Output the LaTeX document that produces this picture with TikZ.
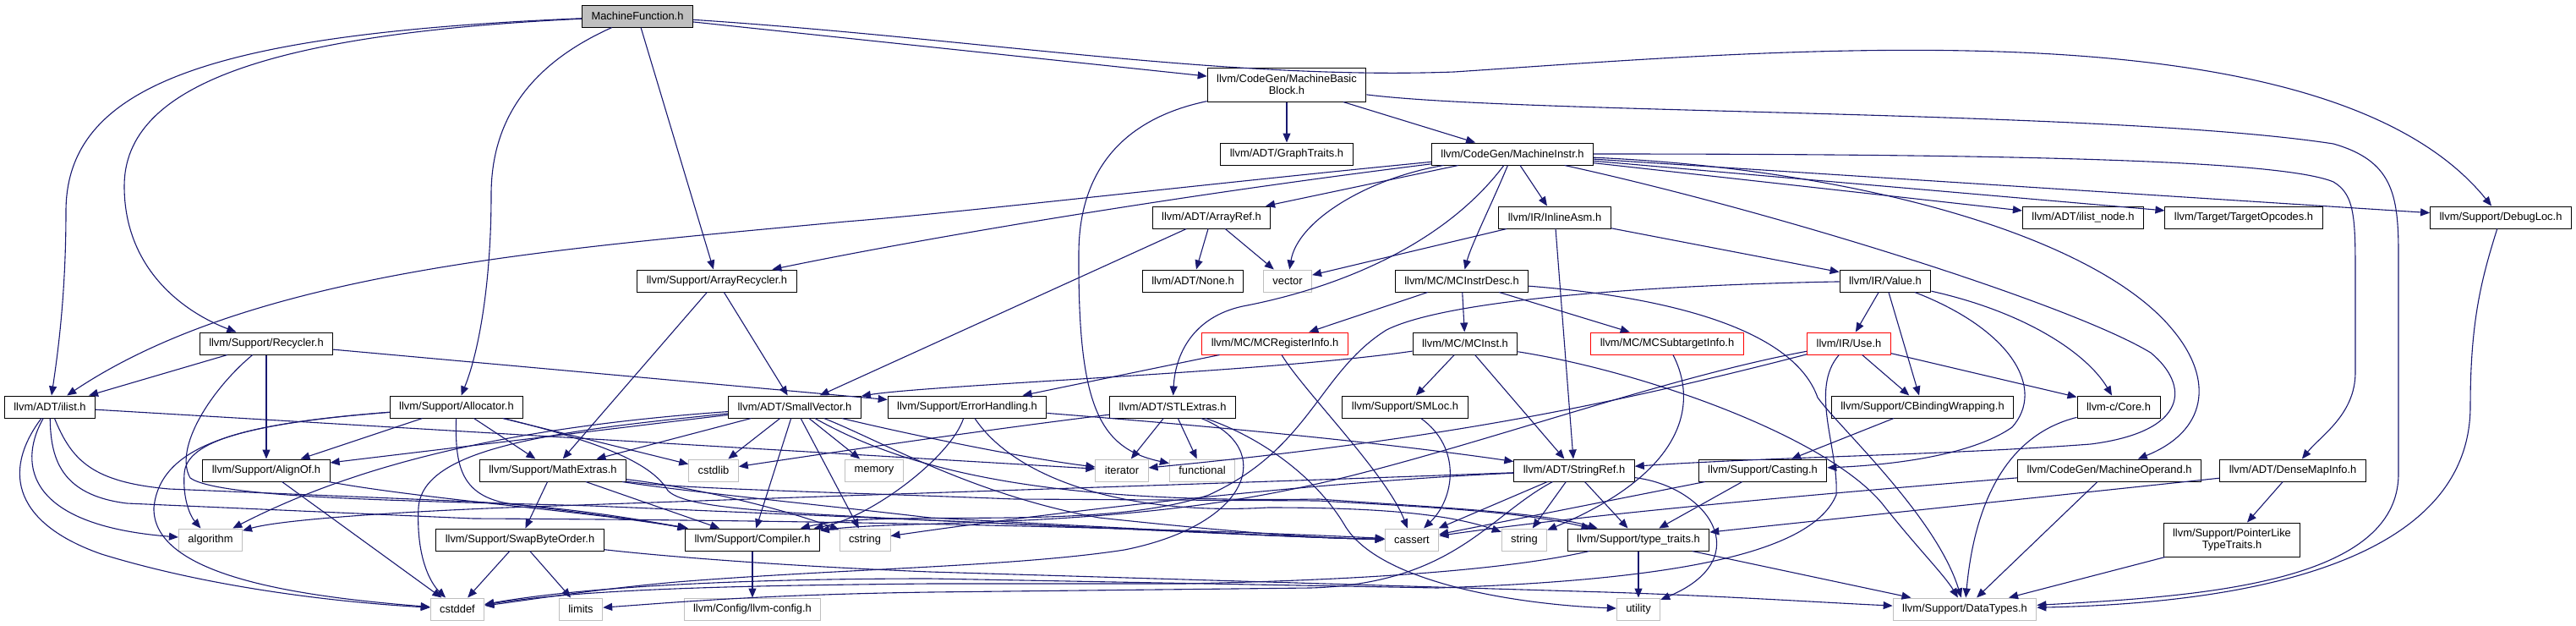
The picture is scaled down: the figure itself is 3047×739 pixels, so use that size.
\documentclass[tikz,border=0pt]{standalone}
\usepackage{fontspec}
\newfontfamily\dotfont{Liberation Sans}
\usetikzlibrary{arrows.meta}
\definecolor{edgeblue}{HTML}{191970}
\definecolor{sysgray}{HTML}{BFBFBF}
\definecolor{hdrred}{HTML}{FF0000}

\begin{document}
\begin{tikzpicture}[x=0.5pt, y=-0.5pt,
    hdr/.style={draw=black, fill=white, line width=0.5pt, inner xsep=5.5pt, inner ysep=0pt,
        minimum height=13pt, align=center, font=\dotfont\fontsize{6.45}{7}\selectfont},
    tall/.style={hdr, minimum height=20pt},
    sys/.style={hdr, draw=sysgray},
    part/.style={hdr, draw=hdrred},
    root/.style={hdr, fill=sysgray},
    dep/.style={draw=edgeblue, line width=0.55pt, -{Triangle[length=5.5pt,width=4.5pt]}}]
    \useasboundingbox (0,0) rectangle (3047,739);
    % Below nodes are the headers.
        \node[root] (mf) at (754,19) {MachineFunction.h};
        \node[tall] (mbb) at (1522,100) {llvm/CodeGen/MachineBasic\\Block.h};
        \node[hdr] (gt) at (1522,182) {llvm/ADT/GraphTraits.h};
        \node[hdr] (mi) at (1789,182) {llvm/CodeGen/MachineInstr.h};
        \node[hdr] (aref) at (1433,257) {llvm/ADT/ArrayRef.h};
        \node[hdr] (iasm) at (1839,257) {llvm/IR/InlineAsm.h};
        \node[hdr] (ilnode) at (2464,257) {llvm/ADT/ilist\_node.h};
        \node[hdr] (topc) at (2654,257) {llvm/Target/TargetOpcodes.h};
        \node[hdr] (dloc) at (2958,257) {llvm/Support/DebugLoc.h};
        \node[hdr] (arec) at (848,332) {llvm/Support/ArrayRecycler.h};
        \node[hdr] (none) at (1411,332) {llvm/ADT/None.h};
        \node[sys] (vec) at (1523,332) {vector};
        \node[hdr] (mcid) at (1729,332) {llvm/MC/MCInstrDesc.h};
        \node[hdr] (val) at (2230,332) {llvm/IR/Value.h};
        \node[hdr] (rec) at (315,406) {llvm/Support/Recycler.h};
        \node[part] (mcri) at (1508,406) {llvm/MC/MCRegisterInfo.h};
        \node[hdr] (mcin) at (1733,406) {llvm/MC/MCInst.h};
        \node[part] (mcsti) at (1972,406) {llvm/MC/MCSubtargetInfo.h};
        \node[part] (use) at (2187,406) {llvm/IR/Use.h};
        \node[hdr] (ilist) at (59,481) {llvm/ADT/ilist.h};
        \node[hdr] (alloc) at (540,481) {llvm/Support/Allocator.h};
        \node[hdr] (svec) at (940,481) {llvm/ADT/SmallVector.h};
        \node[hdr] (errh) at (1144,481) {llvm/Support/ErrorHandling.h};
        \node[hdr] (stl) at (1387,481) {llvm/ADT/STLExtras.h};
        \node[hdr] (smloc) at (1662,481) {llvm/Support/SMLoc.h};
        \node[hdr] (cbw) at (2274,481) {llvm/Support/CBindingWrapping.h};
        \node[hdr] (core) at (2506,481) {llvm-c/Core.h};
        \node[hdr] (align) at (315,556) {llvm/Support/AlignOf.h};
        \node[hdr] (mext) at (654,556) {llvm/Support/MathExtras.h};
        \node[sys] (cstdlib) at (844,556) {cstdlib};
        \node[sys] (mem) at (1034,556) {memory};
        \node[sys] (iter) at (1327,556) {iterator};
        \node[sys] (func) at (1422,556) {functional};
        \node[hdr] (sref) at (1862,556) {llvm/ADT/StringRef.h};
        \node[hdr] (cast) at (2085,556) {llvm/Support/Casting.h};
        \node[hdr] (mop) at (2495,556) {llvm/CodeGen/MachineOperand.h};
        \node[hdr] (dmi) at (2712,556) {llvm/ADT/DenseMapInfo.h};
        \node[sys] (algo) at (249,638) {algorithm};
        \node[hdr] (swap) at (615,638) {llvm/Support/SwapByteOrder.h};
        \node[hdr] (comp) at (890,638) {llvm/Support/Compiler.h};
        \node[sys] (cstring) at (1023,638) {cstring};
        \node[sys] (cassert) at (1670,638) {cassert};
        \node[sys] (string) at (1803,638) {string};
        \node[hdr] (tt) at (1938,638) {llvm/Support/type\_traits.h};
        \node[tall] (plt) at (2640,638) {llvm/Support/PointerLike\\TypeTraits.h};
        \node[sys] (cstddef) at (541,720) {cstddef};
        \node[sys] (limits) at (687,720) {limits};
        \node[sys] (lcfg) at (890,720) {llvm/Config/llvm-config.h};
        \node[sys] (util) at (1938,720) {utility};
        \node[sys] (dt) at (2324,720) {llvm/Support/DataTypes.h};
    % This draws the includes of MachineFunction.h.
        \draw[dep] (mf) .. controls (250,40) and (78,100) .. (78,250) .. controls (78,350) and (68,420) .. (ilist);
        \draw[dep] (mf) .. controls (320,40) and (147,100) .. (147,220) .. controls (147,320) and (220,370) .. (rec);
        \draw[dep] (mf) .. controls (640,70) and (581,130) .. (581,230) .. controls (581,340) and (565,420) .. (alloc);
        \draw[dep] (mf) -- (arec);
        \draw[dep] (mf) -- (mbb);
        \draw[dep] (mf) .. controls (1150,45) and (1450,95) .. (1720,85) .. controls (2100,60) and (2750,0) .. (dloc);
    % MachineBasicBlock.h and MachineInstr.h.
        \draw[dep] (mbb) -- (gt);
        \draw[dep] (mbb) -- (mi);
        \draw[dep] (mbb) .. controls (1330,140) and (1276,200) .. (1276,300) .. controls (1275,480) and (1300,530) .. (func);
        \draw[dep] (mbb) .. controls (1800,135) and (2500,130) .. (2760,170) .. controls (2830,190) and (2837,230) .. (2837,300) -- (2837,560) .. controls (2837,690) and (2600,705) .. (dt);
        \draw[dep] (mi) -- (aref);
        \draw[dep] (mi) -- (iasm);
        \draw[dep] (mi) .. controls (1620,210) and (1535,260) .. (vec);
        \draw[dep] (mi) .. controls (1765,240) and (1740,290) .. (mcid);
        \draw[dep] (mi) .. controls (1700,300) and (1560,345) .. (1470,362) .. controls (1410,375) and (1390,420) .. (stl);
        \draw[dep] (mi) .. controls (1400,220) and (1150,250) .. (1000,262) .. controls (650,295) and (300,320) .. (ilist);
        \draw[dep] (mi) .. controls (1400,230) and (1100,280) .. (arec);
        \draw[dep] (mi) -- (ilnode);
        \draw[dep] (mi) -- (topc);
        \draw[dep] (mi) -- (dloc);
        \draw[dep] (mi) .. controls (2100,250) and (2450,360) .. (2544,417) .. controls (2590,455) and (2590,510) .. (2473,525) .. controls (2300,538) and (2100,540) .. (sref);
        \draw[dep] (mi) .. controls (2200,200) and (2480,280) .. (2570,390) .. controls (2620,450) and (2610,510) .. (mop);
        \draw[dep] (mi) .. controls (2400,182) and (2700,190) .. (2760,215) .. controls (2786,230) and (2786,260) .. (2786,330) -- (2786,440) .. controls (2786,490) and (2745,515) .. (dmi);
    % Second row.
        \draw[dep] (aref) -- (none);
        \draw[dep] (aref) -- (vec);
        \draw[dep] (aref) -- (svec);
        \draw[dep] (iasm) -- (vec);
        \draw[dep] (iasm) -- (sref);
        \draw[dep] (iasm) -- (val);
        \draw[dep] (arec) -- (svec);
        \draw[dep] (arec) -- (mext);
        \draw[dep] (mcid) -- (mcri);
        \draw[dep] (mcid) -- (mcin);
        \draw[dep] (mcid) -- (mcsti);
        \draw[dep] (mcid) .. controls (1960,350) and (2120,385) .. (2150,470) .. controls (2175,505) and (2290,610) .. (dt);
        \draw[dep] (val) -- (use);
        \draw[dep] (val) -- (cbw);
        \draw[dep] (val) .. controls (2380,390) and (2420,460) .. (2380,505) .. controls (2330,540) and (2230,550) .. (cast);
        \draw[dep] (val) .. controls (2400,370) and (2470,420) .. (core);
        \draw[dep] (val) .. controls (2000,336) and (1720,350) .. (1640,390) .. controls (1560,440) and (1550,530) .. (1430,585) .. controls (1300,630) and (1050,600) .. (comp);
    % Third row.
        \draw[dep] (rec) -- (ilist);
        \draw[dep] (rec) -- (align);
        \draw[dep] (rec) -- (errh);
        \draw[dep] (rec) .. controls (250,460) and (205,530) .. (225,565) .. controls (260,590) and (500,592) .. (700,598) -- (1100,615) .. controls (1400,628) and (1550,636) .. (cassert);
        \draw[dep] (mcri) -- (errh);
        \draw[dep] (mcri) .. controls (1540,460) and (1640,560) .. (cassert);
        \draw[dep] (mcin) .. controls (1500,440) and (1100,455) .. (svec);
        \draw[dep] (mcin) -- (smloc);
        \draw[dep] (mcin) -- (sref);
        \draw[dep] (mcin) .. controls (1950,440) and (2170,520) .. (2230,600) .. controls (2270,650) and (2300,680) .. (dt);
        \draw[dep] (mcsti) .. controls (2010,480) and (1990,560) .. (string);
        \draw[dep] (use) -- (cbw);
        \draw[dep] (use) -- (core);
        \draw[dep] (use) .. controls (1900,480) and (1700,520) .. (iter);
        \draw[dep] (use) .. controls (1950,450) and (1700,545) .. (1520,580) .. controls (1300,625) and (1060,615) .. (comp);
        \draw[dep] (use) .. controls (2140,460) and (2175,530) .. (2172,585) .. controls (2145,650) and (2000,685) .. (1700,695) -- (1100,684) .. controls (900,684) and (700,692) .. (cstddef);
    % Fourth row.
        \draw[dep] (ilist) .. controls (25,540) and (20,620) .. (algo);
        \draw[dep] (ilist) .. controls (0,560) and (20,620) .. (120,655) .. controls (250,695) and (400,712) .. (cstddef);
        \draw[dep] (ilist) -- (iter);
        \draw[dep] (ilist) .. controls (85,545) and (110,570) .. (200,578) -- (560,593) .. controls (680,600) and (760,615) .. (comp);
        \draw[dep] (ilist) .. controls (60,540) and (70,585) .. (150,595) -- (560,613) .. controls (1000,615) and (1400,625) .. (cassert);
        \draw[dep] (alloc) -- (align);
        \draw[dep] (alloc) -- (mext);
        \draw[dep] (alloc) -- (cstdlib);
        \draw[dep] (alloc) .. controls (300,500) and (220,520) .. (218,560) .. controls (216,590) and (225,610) .. (algo);
        \draw[dep] (alloc) .. controls (300,500) and (190,520) .. (182,600) .. controls (180,680) and (350,705) .. (cstddef);
        \draw[dep] (alloc) .. controls (538,550) and (545,585) .. (600,595) .. controls (680,605) and (760,615) .. (comp);
        \draw[dep] (alloc) .. controls (700,520) and (770,545) .. (790,580) .. controls (810,600) and (900,605) .. (1100,615) .. controls (1400,628) and (1550,636) .. (cassert);
        \draw[dep] (svec) -- (align);
        \draw[dep] (svec) .. controls (600,505) and (420,550) .. (algo);
        \draw[dep] (svec) .. controls (650,510) and (500,530) .. (495,600) .. controls (492,660) and (510,690) .. (cstddef);
        \draw[dep] (svec) -- (mext);
        \draw[dep] (svec) -- (cstdlib);
        \draw[dep] (svec) -- (mem);
        \draw[dep] (svec) -- (comp);
        \draw[dep] (svec) -- (cstring);
        \draw[dep] (svec) .. controls (1060,510) and (1200,540) .. (iter);
        \draw[dep] (svec) .. controls (1040,520) and (1150,585) .. (1300,612) .. controls (1450,628) and (1550,636) .. (cassert);
        \draw[dep] (svec) .. controls (1080,560) and (1250,595) .. (1560,590) .. controls (1700,600) and (1820,605) .. (tt);
        \draw[dep] (errh) .. controls (1450,505) and (1650,525) .. (sref);
        \draw[dep] (errh) .. controls (1125,540) and (1030,612) .. (comp);
        \draw[dep] (errh) .. controls (1200,565) and (1330,610) .. (1500,600) .. controls (1650,600) and (1720,610) .. (string);
        \draw[dep] (stl) -- (iter);
        \draw[dep] (stl) -- (func);
        \draw[dep] (stl) .. controls (1150,510) and (950,540) .. (cstdlib);
        \draw[dep] (stl) .. controls (1510,530) and (1480,620) .. (1330,650) .. controls (1200,670) and (1000,672) .. (800,688) .. controls (700,697) and (620,710) .. (cstddef);
        \draw[dep] (stl) .. controls (1500,520) and (1560,570) .. (1590,620) .. controls (1630,690) and (1800,715) .. (util);
        \draw[dep] (smloc) .. controls (1730,530) and (1720,590) .. (cassert);
        \draw[dep] (cbw) -- (cast);
        \draw[dep] (core) .. controls (2370,515) and (2335,600) .. (dt);
    % Fifth row.
        \draw[dep] (align) .. controls (500,590) and (700,605) .. (comp);
        \draw[dep] (align) -- (cstddef);
        \draw[dep] (mext) -- (swap);
        \draw[dep] (mext) -- (comp);
        \draw[dep] (mext) .. controls (850,580) and (950,610) .. (cstring);
        \draw[dep] (mext) .. controls (800,578) and (1000,582) .. (1200,590) -- (1560,592) .. controls (1700,600) and (1800,605) .. (tt);
        \draw[dep] (mext) .. controls (800,580) and (1000,600) .. (1100,612) .. controls (1400,628) and (1550,636) .. (cassert);
        \draw[dep] (sref) -- (cassert);
        \draw[dep] (sref) -- (string);
        \draw[dep] (sref) -- (tt);
        \draw[dep] (sref) .. controls (2020,575) and (2080,660) .. (util);
        \draw[dep] (sref) .. controls (1600,566) and (1300,576) .. (1000,586) -- (600,600) .. controls (450,606) and (330,615) .. (algo);
        \draw[dep] (sref) .. controls (1550,570) and (1250,605) .. (cstring);
        \draw[dep] (sref) .. controls (1760,610) and (1720,690) .. (1550,695) -- (1100,700) .. controls (900,703) and (800,712) .. (limits);
        \draw[dep] (cast) -- (cassert);
        \draw[dep] (cast) -- (tt);
        \draw[dep] (mop) .. controls (2200,580) and (1900,605) .. (cassert);
        \draw[dep] (mop) -- (dt);
        \draw[dep] (dmi) -- (tt);
        \draw[dep] (dmi) -- (plt);
        \draw[dep] (dloc) .. controls (2935,330) and (2922,380) .. (2922,480) .. controls (2922,650) and (2700,712) .. (dt);
    % Bottom rows.
        \draw[dep] (swap) -- (cstddef);
        \draw[dep] (swap) -- (limits);
        \draw[dep] (swap) .. controls (760,655) and (900,668) .. (1100,676) -- (1900,700) .. controls (2050,705) and (2150,712) .. (dt);
        \draw[dep] (comp) -- (lcfg);
        \draw[dep] (tt) -- (util);
        \draw[dep] (tt) -- (dt);
        \draw[dep] (tt) .. controls (1800,670) and (1650,685) .. (1400,690) -- (1100,690) .. controls (900,692) and (700,695) .. (cstddef);
        \draw[dep] (plt) -- (dt);
\end{tikzpicture}
\end{document}
